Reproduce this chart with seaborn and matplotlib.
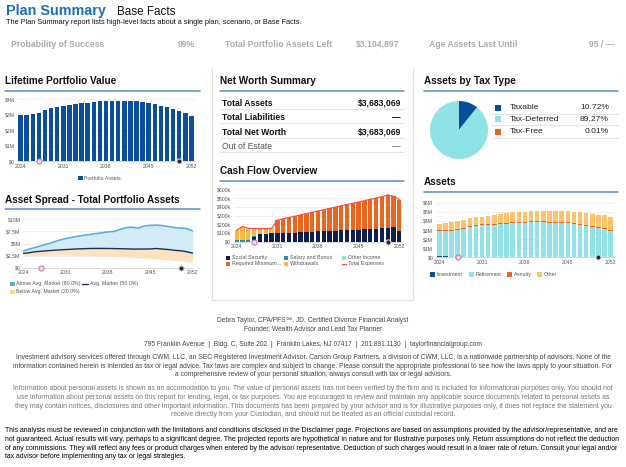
import numpy as np
import pandas as pd
import matplotlib
matplotlib.use("Agg")
import matplotlib.pyplot as plt
import seaborn as sns
from matplotlib import font_manager as fm
from matplotlib.lines import Line2D
from matplotlib.patches import Rectangle

# ---------------- data ----------------
years = list(range(2024, 2053))
year_ticks = [2024, 2031, 2038, 2045, 2052]
event_years = [2027, 2050]

stats_labels = ["Probability of Success", "Total Portfolio Assets Left", "Age Assets Last Until"]
stats_values = ["99%", "$3,104,897", "95 / \u2014"]

# Lifetime Portfolio Value ($M)
portfolio = [2.99, 2.99, 3.03, 3.12, 3.29, 3.44, 3.51, 3.57, 3.63, 3.68, 3.74, 3.78, 3.85, 3.89,
             3.89, 3.91, 3.91, 3.91, 3.91, 3.89, 3.83, 3.74, 3.68, 3.59, 3.51, 3.40, 3.25, 3.10, 2.95]

# Asset Spread ($M)
above_avg = [3.5, 3.85, 4.2, 4.55, 4.9, 5.3, 5.7, 6.0, 6.25, 6.5, 6.7, 6.85, 7.05, 7.2, 7.4, 7.5,
             7.9, 8.3, 8.35, 8.2, 8.6, 8.75, 8.8, 8.7, 8.5, 8.3, 8.2, 8.1, 7.6]
avg_market = [2.95, 3.1, 3.3, 3.4, 3.5, 3.6, 3.68, 3.75, 3.82, 3.88, 3.92, 3.97, 3.98, 3.98, 3.97,
              3.95, 3.92, 3.9, 3.85, 3.85, 3.86, 3.87, 3.97, 3.85, 3.75, 3.6, 3.5, 3.3, 3.0]
below_avg = [2.45, 2.5, 2.55, 2.55, 2.6, 2.6, 2.6, 2.6, 2.55, 2.55, 2.5, 2.5, 2.45, 2.4, 2.35, 2.3,
             2.25, 2.2, 2.1, 2.05, 2.0, 1.9, 1.8, 1.7, 1.6, 1.5, 1.4, 1.25, 1.1]

# Net worth
nw_labels = ["Total Assets", "Total Liabilities", "Total Net Worth", "Out of Estate"]
nw_values = ["$3,683,069", "\u2014", "$3,683,069", "\u2014"]

# Cash Flow ($k)
social_security = [0, 0, 0, 55, 90, 92, 95, 98, 100, 102, 105, 108, 111, 114, 117, 120, 123, 126,
                   129, 132, 135, 138, 141, 144, 148, 152, 158, 170, 118]
salary_bonus = [18, 18, 15, 8, 0, 0, 0, 0, 0, 0, 0, 0, 0, 0, 0, 0, 0, 0, 0, 0, 0, 0, 0, 0, 0, 0, 0, 0, 0]
other_income = [0] * 29
required_min = [0, 0, 0, 0, 0, 0, 0, 149, 162, 175, 187, 199, 210, 222, 234, 246, 258, 270, 282,
                294, 305, 317, 329, 341, 352, 363, 372, 348, 357]
withdrawals = [111, 151, 130, 82, 60, 58, 62, 0, 0, 0, 0, 0, 0, 0, 0, 0, 0, 0, 0, 0, 0, 0, 0, 0, 0,
               0, 0, 0, 0]
total_expenses = [130, 175, 152, 150, 150, 150, 152, 245, 262, 277, 292, 307, 321, 336, 351, 366,
                  381, 396, 411, 426, 440, 455, 470, 485, 500, 515, 535, 520, 480]

# Assets by tax type
tax_labels = ["Taxable", "Tax-Deferred", "Tax-Free"]
tax_values = [10.72, 89.27, 0.01]

# Assets ($M)
investment = [0.15, 0.1, 0, 0, 0, 0, 0, 0, 0, 0, 0, 0, 0, 0, 0, 0, 0, 0, 0, 0, 0, 0, 0, 0, 0, 0, 0, 0, 0]
retirement = [2.7, 2.79, 2.93, 3.00, 3.15, 3.33, 3.44, 3.51, 3.51, 3.59, 3.66, 3.70, 3.73, 3.77,
              3.81, 3.84, 3.84, 3.84, 3.81, 3.81, 3.77, 3.73, 3.66, 3.55, 3.48, 3.33, 3.22, 3.07, 2.85]
annuity = [0.12] * 29
other_assets = [0.69, 0.72, 0.79, 0.83, 0.83, 0.83, 0.83, 0.83, 0.94, 0.97, 1.01, 1.05, 1.09, 1.09,
                1.08, 1.09, 1.13, 1.13, 1.16, 1.16, 1.16, 1.20, 1.23, 1.27, 1.23, 1.31, 1.31, 1.42, 1.46]

# ---------------- style ----------------
sns.set_theme(style="white")
names = {f.name for f in fm.fontManager.ttflist}
NARROW = "Liberation Sans Narrow" if "Liberation Sans Narrow" in names else "Liberation Sans"
plt.rcParams["font.family"] = ["Liberation Sans", "DejaVu Sans"]

BLUE_T = "#1E6DB7"
RULE = "#5B8EC6"
NAVYBAR = "#0B4F9C"
GRAY = "#555555"

W, H = 626, 467
fig = plt.figure(figsize=(W / 100, H / 100), dpi=100)
fig.patch.set_facecolor("white")
renderer = fig.canvas.get_renderer()


def fx(x):
    return x / W


def fy(y):
    return 1 - y / H


def T(x, y, s, size, **kw):
    kw.setdefault("va", "center")
    return fig.text(fx(x), fy(y), s, fontsize=size, **kw)


def fit_size(s, width, **kw):
    t = fig.text(0, 0, s, fontsize=10, **kw)
    w = t.get_window_extent(renderer).width
    t.remove()
    return 10 * width / w


def hline(x0, x1, y, color, lw):
    fig.add_artist(Line2D([fx(x0), fx(x1)], [fy(y), fy(y)], color=color, lw=lw,
                          transform=fig.transFigure))


def vline(x, y0, y1, color, lw):
    fig.add_artist(Line2D([fx(x), fx(x)], [fy(y0), fy(y1)], color=color, lw=lw,
                          transform=fig.transFigure))


def square(x, y, color, s=4.5):
    fig.add_artist(Rectangle((fx(x), fy(y + s / 2)), s / W, s / H, color=color, lw=0,
                             transform=fig.transFigure))


def AX(x, y, w, h):
    return fig.add_axes([fx(x), fy(y + h), w / W, h / H])


def style(ax, ylim, yt, ylab, xt, xlab, xlim):
    ax.set_xlim(*xlim)
    ax.set_ylim(*ylim)
    ax.set_yticks(yt)
    ax.set_yticklabels(ylab)
    ax.set_xticks(xt)
    ax.set_xticklabels(xlab)
    ax.tick_params(labelsize=3.7, colors=GRAY, length=0, pad=2)
    ax.grid(axis="y", color="#e9e9e9", lw=0.5)
    ax.grid(axis="x", visible=False)
    ax.set_axisbelow(True)
    for s in ["top", "right", "left"]:
        ax.spines[s].set_visible(False)
    ax.spines["bottom"].set_color("#c8c8c8")
    ax.spines["bottom"].set_linewidth(0.5)
    ax.set_xlabel("")
    ax.set_ylabel("")
    ax.set_facecolor("none")


def events(ax, xs):
    ax.scatter([xs[0]], [0], s=14, facecolor="#f7d9ef", edgecolor="#b45ea6", lw=0.6,
               zorder=5, clip_on=False)
    ax.scatter([xs[1]], [0], s=14, facecolor="#2a2a2a", edgecolor="#dddddd", lw=0.8,
               zorder=5, clip_on=False)


BAR_KW = dict(saturation=1, width=0.74, linewidth=0, edgecolor="none")

# ---------------- header ----------------
sz = fit_size("Plan Summary", 100, weight="bold")
T(6, 11, "Plan Summary", sz, color=BLUE_T, weight="bold")
sz = fit_size("Base Facts", 58)
T(117, 12, "Base Facts", sz, color="#111111")
sub = "The Plan Summary report lists high-level facts about a single plan, scenario, or Base Facts."
sz = fit_size(sub, 300, family=NARROW)
T(6, 22.5, sub, sz, color="#111111", family=NARROW)

ssz = fit_size(stats_labels[1], 106, weight="bold")
stat_lx = [11, 225, 429]
stat_vx = [195, 399, 614]
for lab, val, lx, vx in zip(stats_labels, stats_values, stat_lx, stat_vx):
    T(lx, 43.5, lab, ssz, color="#ababab", weight="bold", va="center_baseline")
    T(vx, 43.5, val, ssz, color="#ababab", weight="bold", ha="right", va="center_baseline")

# ---------------- panel titles ----------------
tsz = fit_size("Asset Spread - Total Portfolio Assets", 174, weight="bold")
titles = [("Lifetime Portfolio Value", 5, 81, 5, 200, 91),
          ("Asset Spread - Total Portfolio Assets", 5, 200, 5, 200, 209),
          ("Net Worth Summary", 220, 81, 220, 404, 91),
          ("Cash Flow Overview", 220, 171, 220, 404, 181),
          ("Assets by Tax Type", 424, 81, 424, 618, 91),
          ("Assets", 424, 182, 424, 618, 192)]
for txt, x, y, x0, x1, ry in titles:
    T(x, y, txt, tsz, color="#111111", weight="bold")
    hline(x0, x1, ry, RULE, 1.1)

# middle panel frame
vline(212, 68, 300, "#e2e2e2", 0.9)
vline(413, 68, 300, "#e2e2e2", 0.9)
hline(212, 413, 300, "#e2e2e2", 0.9)

LSZ = 3.8

# ---------------- Lifetime Portfolio Value ----------------
ax1 = AX(17.5, 99.3, 177, 62)
df1 = pd.DataFrame({"year": years, "value": portfolio})
sns.barplot(data=df1, x="year", y="value", color=NAVYBAR, ax=ax1, **BAR_KW)
style(ax1, (0, 4), [0, 1, 2, 3, 4], ["$0", "$1M", "$2M", "$3M", "$4M"],
      [years.index(y) for y in year_ticks], [str(y) for y in year_ticks], (-0.5, 28.5))
events(ax1, [years.index(e) for e in event_years])
square(78, 178, NAVYBAR)
T(84, 178, "Portfolio Assets", LSZ, color=GRAY)

# ---------------- Asset Spread ----------------
ax2 = AX(23.3, 219.3, 169.4, 48.4)
ax2.fill_between(years, avg_market, above_avg, color="#d3ebf6", lw=0)
ax2.fill_between(years, below_avg, avg_market, color="#fbe3bf", lw=0)
sns.lineplot(x=years, y=above_avg, color="#5AB2DA", lw=1.2, ax=ax2)
sns.lineplot(x=years, y=avg_market, color="#1C2E5C", lw=1.0, ax=ax2)
style(ax2, (0, 10), [0, 2.5, 5, 7.5, 10], ["$0", "$2.5M", "$5M", "$7.5M", "$10M"],
      year_ticks, [str(y) for y in year_ticks], (2024, 2052))
events(ax2, event_years)
square(10, 284, "#5AB2DA")
T(15.5, 284, "Above Avg. Market (80.0%)", LSZ, color=GRAY)
hline(81.5, 87.5, 284, "#1C2E5C", 1.0)
T(89.5, 284, "Avg. Market (50.0%)", LSZ, color=GRAY)
square(10, 292, "#FBD38E")
T(15.5, 292, "Below Avg. Market (20.0%)", LSZ, color=GRAY)

# ---------------- Net Worth Summary ----------------
nsz = fit_size("Total Assets", 50.5, weight="bold")
row_y = [103.3, 117.3, 132.3, 146.3]
for i, (lab, val) in enumerate(zip(nw_labels, nw_values)):
    bold = i < 3
    col = "#111111" if bold else "#555555"
    T(222.5, row_y[i], lab, nsz, color=col, weight="bold" if bold else "normal")
    T(401, row_y[i], val, nsz, color=col, weight="bold" if bold else "normal", ha="right")
    hline(220, 404, row_y[i] + 6, "#e4e4e4", 0.8)

# ---------------- Cash Flow Overview ----------------
ax3 = AX(233.8, 189.3, 168.4, 52.4)
layers_cf = [("Social Security", social_security, "#0F1F4B"),
             ("Salary and Bonus", salary_bonus, "#2A8DB3"),
             ("Other Income", other_income, "#8CE5C6"),
             ("Required Minimum...", required_min, "#E9661F"),
             ("Withdrawals", withdrawals, "#FBB940")]
cum = np.cumsum([np.array(v, dtype=float) for _, v, _ in layers_cf], axis=0)
for k in range(len(layers_cf) - 1, -1, -1):
    dfk = pd.DataFrame({"year": years, "value": cum[k]})
    sns.barplot(data=dfk, x="year", y="value", color=layers_cf[k][2], ax=ax3, **BAR_KW)
sns.lineplot(x=list(range(len(years))), y=total_expenses, color="#FF4B4B", lw=0.9, ax=ax3)
style(ax3, (0, 600), [0, 100, 200, 300, 400, 500, 600],
      ["$0", "$100k", "$200k", "$300k", "$400k", "$500k", "$600k"],
      [years.index(y) for y in year_ticks], [str(y) for y in year_ticks], (-0.5, 28.5))
events(ax3, [years.index(e) for e in event_years])
cf_leg = [("Social Security", "#0F1F4B", 226, 257.7), ("Salary and Bonus", "#2A8DB3", 284, 257.7),
          ("Other Income", "#8CE5C6", 342, 257.7), ("Required Minimum...", "#E9661F", 226, 263.7),
          ("Withdrawals", "#FBB940", 284, 263.7)]
for lab, c, x, y in cf_leg:
    square(x, y, c, s=4)
    T(x + 6, y, lab, LSZ, color=GRAY)
hline(342, 346.5, 263.7, "#FF4B4B", 1.0)
T(348, 263.7, "Total Expenses", LSZ, color=GRAY)

# ---------------- Assets by Tax Type ----------------
axp = AX(430, 101, 58, 58)
pie_colors = ["#0B4F9C", "#8FE3E6", "#E9661F"]
axp.pie(tax_values, colors=pie_colors, startangle=90, counterclock=False,
        wedgeprops=dict(linewidth=0))
axp.set_xlim(-1, 1)
axp.set_ylim(-1, 1)
axp.set_aspect("equal")
psz = fit_size("Tax-Deferred", 49.5)
prow = [107.7, 119.3, 131.7]
for lab, val, c, y in zip(tax_labels, tax_values, pie_colors, prow):
    square(494.5, y, c, s=6)
    T(510, y, lab, psz, color="#222222")
    T(609, y, f"{val:.2f}%", psz, color="#222222", ha="right")
    hline(492, 618, y + 5.8, "#e2e2e2", 0.8)

# ---------------- Assets ----------------
ax4 = AX(436.2, 202.7, 177.5, 54.6)
layers_as = [("Investment", investment, "#0B4F9C"),
             ("Retirement", retirement, "#93E2E5"),
             ("Annuity", annuity, "#E9661F"),
             ("Other", other_assets, "#FDC46B")]
cum4 = np.cumsum([np.array(v, dtype=float) for _, v, _ in layers_as], axis=0)
for k in range(len(layers_as) - 1, -1, -1):
    dfk = pd.DataFrame({"year": years, "value": cum4[k]})
    sns.barplot(data=dfk, x="year", y="value", color=layers_as[k][2], ax=ax4, **BAR_KW)
style(ax4, (0, 6), [0, 1, 2, 3, 4, 5, 6], ["$0", "$1M", "$2M", "$3M", "$4M", "$5M", "$6M"],
      [years.index(y) for y in year_ticks], [str(y) for y in year_ticks], (-0.5, 28.5))
events(ax4, [years.index(e) for e in event_years])
for (lab, _, c), x in zip(layers_as, [430, 469.3, 507.3, 537.3]):
    square(x, 274.7, c, s=4.5)
    T(x + 6.5, 274.7, lab, LSZ, color=GRAY)

# ---------------- footer ----------------
fsz = fit_size("Debra Taylor, CPA/PFS\u2122, JD, Certified Divorce Financial Analyst", 193, family=NARROW)
T(313, 320, "Debra Taylor, CPA/PFS\u2122, JD, Certified Divorce Financial Analyst", fsz,
  color="#444444", ha="center", family=NARROW)
T(313, 329, "Founder, Wealth Advisor and Lead Tax Planner", fsz, color="#444444", ha="center",
  family=NARROW)
T(313, 344.5, "795 Franklin Avenue  |  Bldg. C, Suite 202  |  Franklin Lakes, NJ 07417  |  "
  "201.891.1130  |  taylorfinancialgroup.com", fsz, color="#444444", ha="center", family=NARROW)

p1 = ["Investment advisory services offered through CWM, LLC, an SEC Registered Investment Advisor. "
      "Carson Group Partners, a division of CWM, LLC, is a nationwide partnership of advisors. None of the",
      "information contained herein is intended as tax or legal advice. Tax laws are complex and subject "
      "to change. Please consult the appropriate professional to see how the laws apply to your situation. For",
      "a comprehensive review of your personal situation, always consult with tax or legal advisors."]
p2 = ["Information about personal assets is shown as an accomodation to you. The value of personal assets "
      "has not been verfied by the firm and is included for informational purposes only. You should not",
      "use information about personal assets on this report for lending, legal, or tax purposes. You are "
      "encouraged to review and maintain any applicable source documents related to personal assets as",
      "they may contain notices, disclosures and other important information. This documents has been "
      "prepared by your advisor and is for illustrative purposes only, it does not replace the statement you",
      "receive directly from your Custodian, and should not be treated as an official custodial record."]
p3 = ["This analysis must be reviewed in conjunction with the limitations and conditions disclosed in the "
      "Disclaimer page. Projections are based on assumptions provided by the advisor/representative, and are",
      "not guaranteed. Actual results will vary, perhaps to a significant degree. The projected reports are "
      "hypothetical in nature and for illustrative purposes only. Return assumptions do not reflect the deduction",
      "of any commissions. They will reflect any fees or product charges when entered by the advisor/ "
      "representative. Deduction of such charges would result in a lower rate of return. Consult your legal and/or",
      "tax advisor before implementing any tax or legal strategies."]

s1 = fit_size(p1[0], 598, family=NARROW)
for line, y in zip(p1, [357.5, 366, 374.5]):
    T(313, y, line, s1, color="#444444", ha="center", family=NARROW)
s2 = fit_size(p2[0], 598, family=NARROW)
for line, y in zip(p2, [389, 397.5, 406, 414.5]):
    T(313, y, line, s2, color="#777777", ha="center", family=NARROW)
s3 = fit_size(p3[1], 614, family=NARROW)
for line, y in zip(p3, [431, 439.5, 448, 456.5]):
    T(5, y, line, s3, color="#000000", ha="left", family=NARROW)

fig.savefig("out.png", dpi=100, facecolor="white")
